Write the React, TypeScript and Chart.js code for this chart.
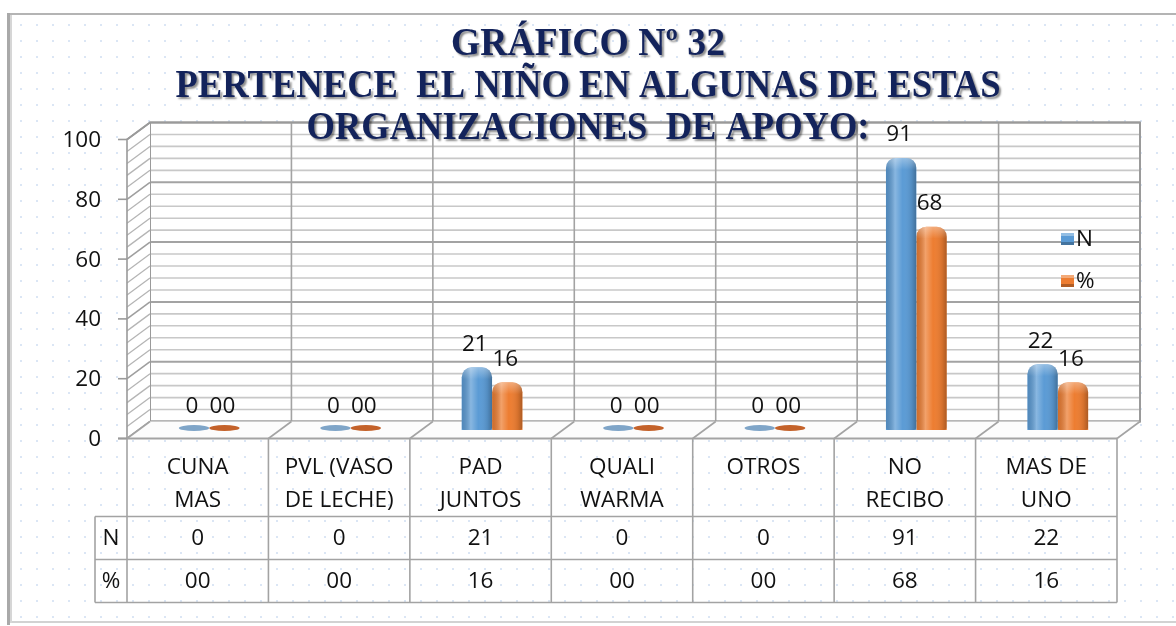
import React, { useEffect, useRef } from "react";
import { Chart, registerables } from "chart.js";
Chart.register(...registerables);

// ---------- data ----------
const categories: string[][] = [
  ["CUNA", "MAS"],
  ["PVL (VASO", "DE LECHE)"],
  ["PAD", "JUNTOS"],
  ["QUALI", "WARMA"],
  ["OTROS"],
  ["NO", "RECIBO"],
  ["MAS DE", "UNO"],
];
const seriesN = [0, 0, 21, 0, 0, 91, 22];
const seriesPct = [0, 0, 16, 0, 0, 68, 16];
const seriesNames = ["N", "%"];
const yTicks = [0, 20, 40, 60, 80, 100];
const titleLines = [
  "GRÁFICO Nº 32",
  "PERTENECE  EL NIÑO EN ALGUNAS DE ESTAS",
  "ORGANIZACIONES  DE APOYO:",
];

// ---------- style ----------
const BLUE = "#5b9bd5";
const ORANGE = "#ed7d31";
const BLUE_DISC = "#7fa5c8";
const ORANGE_DISC = "#c4622a";
const TITLE_COLOR = "#13235b";
const FONT = "'Open Sans', sans-serif";
const FS = 22.5;
const DX = 11.5;
const DY = 8.5;

const fmt = (v: number, ds: number) => (ds === 1 && v === 0 ? "00" : String(v));

export default function App() {
  const ref = useRef<HTMLCanvasElement>(null);

  useEffect(() => {
    const canvas = ref.current!;
    const decor = {
      id: "decor",
      beforeDraw(chart: any) {
        const ctx = chart.ctx as CanvasRenderingContext2D;
        const xs = chart.scales.x;
        const ys = chart.scales.y;
        const n = categories.length;
        const cw = xs.getPixelForValue(1) - xs.getPixelForValue(0);
        const bnd = (i: number) => xs.getPixelForValue(0) - cw / 2 + i * cw;
        const fY = (v: number) => ys.getPixelForValue(v) + DY;
        const bY = (v: number) => ys.getPixelForValue(v) - DY;
        const W = chart.width;
        const H = chart.height;
        ctx.save();
        ctx.fillStyle = "#ffffff";
        ctx.fillRect(0, 0, W, H);
        // dots
        ctx.fillStyle = "rgba(165,192,230,0.4)";
        for (let x = 20; x < W; x += 16) {
          for (let y = 24; y < 618; y += 16) ctx.fillRect(x, y, 2, 2);
        }
        // frame
        ctx.strokeStyle = "#b4b4b4";
        ctx.lineWidth = 2;
        ctx.beginPath();
        ctx.moveTo(8, 14);
        ctx.lineTo(W, 14);
        ctx.stroke();
        ctx.strokeStyle = "#d2d2d2";
        ctx.beginPath();
        ctx.moveTo(8, 622);
        ctx.lineTo(W, 622);
        ctx.stroke();
        ctx.fillStyle = "#a9a9a9";
        ctx.fillRect(7, 13, 3, 612);
        ctx.fillStyle = "#d6d6d6";
        ctx.fillRect(10, 15, 2, 608);

        const L = bnd(0), R = bnd(n);
        // back wall
        ctx.fillStyle = "#ffffff";
        ctx.fillRect(L + DX, bY(100), R - L, bY(0) - bY(100));
        for (let v = 0; v <= 100; v += 4) {
          const major = v % 20 === 0;
          ctx.strokeStyle = major ? "#a3a3a3" : "#c8c8c8";
          ctx.lineWidth = major ? 2 : 1.6;
          ctx.beginPath();
          ctx.moveTo(L + DX, bY(v));
          ctx.lineTo(R + DX, bY(v));
          ctx.stroke();
        }
        ctx.strokeStyle = "#a3a3a3";
        ctx.lineWidth = 1.6;
        for (let i = 0; i <= n; i++) {
          ctx.beginPath();
          ctx.moveTo(bnd(i) + DX, bY(100));
          ctx.lineTo(bnd(i) + DX, bY(0));
          ctx.stroke();
        }
        ctx.strokeStyle = "#9a9a9a";
        ctx.lineWidth = 2;
        ctx.strokeRect(L + DX, bY(100), R - L, bY(0) - bY(100));
        // side wall
        ctx.fillStyle = "#ffffff";
        ctx.beginPath();
        ctx.moveTo(L - DX, fY(100));
        ctx.lineTo(L + DX, bY(100));
        ctx.lineTo(L + DX, bY(0));
        ctx.lineTo(L - DX, fY(0));
        ctx.closePath();
        ctx.fill();
        for (let v = 0; v <= 100; v += 4) {
          const major = v % 20 === 0;
          ctx.strokeStyle = major ? "#9f9f9f" : "#b5b5b5";
          ctx.lineWidth = major ? 1.6 : 1.3;
          ctx.beginPath();
          ctx.moveTo(L - DX, fY(v));
          ctx.lineTo(L + DX, bY(v));
          ctx.stroke();
        }
        ctx.strokeStyle = "#9a9a9a";
        ctx.lineWidth = 1.6;
        ctx.beginPath();
        ctx.moveTo(L - DX, fY(0));
        ctx.lineTo(L - DX, fY(100));
        ctx.lineTo(L + DX, bY(100));
        ctx.stroke();
        // floor
        ctx.fillStyle = "#fcfcfc";
        ctx.beginPath();
        ctx.moveTo(L - DX, fY(0));
        ctx.lineTo(R - DX, fY(0));
        ctx.lineTo(R + DX, bY(0));
        ctx.lineTo(L + DX, bY(0));
        ctx.closePath();
        ctx.fill();
        ctx.strokeStyle = "#a3a3a3";
        ctx.lineWidth = 1.6;
        for (let i = 0; i <= n; i++) {
          ctx.beginPath();
          ctx.moveTo(bnd(i) - DX, fY(0));
          ctx.lineTo(bnd(i) + DX, bY(0));
          ctx.stroke();
        }
        ctx.lineWidth = 2;
        ctx.beginPath();
        ctx.moveTo(L - DX - 9, fY(0));
        ctx.lineTo(R - DX, fY(0));
        ctx.stroke();
        // ticks + labels
        ctx.font = `${FS}px ${FONT}`;
        ctx.fillStyle = "#111";
        ctx.textAlign = "right";
        ctx.textBaseline = "middle";
        ctx.strokeStyle = "#9a9a9a";
        ctx.lineWidth = 1.6;
        for (const t of yTicks) {
          ctx.beginPath();
          ctx.moveTo(L - DX - 9, fY(t));
          ctx.lineTo(L - DX, fY(t));
          ctx.stroke();
          ctx.fillText(String(t), L - DX - 26, fY(t) + 1);
        }
        // data table
        const t0 = fY(0);
        const rHead = t0 + 78;
        const rN = rHead + 43;
        const rP = rN + 43;
        const lab = L - DX - 32;
        ctx.strokeStyle = "#a3a3a3";
        ctx.lineWidth = 1.6;
        for (let i = 0; i <= n; i++) {
          ctx.beginPath();
          ctx.moveTo(bnd(i) - DX, t0);
          ctx.lineTo(bnd(i) - DX, rP);
          ctx.stroke();
        }
        for (const y of [rHead, rN, rP]) {
          ctx.beginPath();
          ctx.moveTo(lab, y);
          ctx.lineTo(R - DX, y);
          ctx.stroke();
        }
        ctx.beginPath();
        ctx.moveTo(lab, rHead);
        ctx.lineTo(lab, rP);
        ctx.stroke();
        ctx.fillStyle = "#111";
        ctx.textAlign = "center";
        ctx.textBaseline = "middle";
        ctx.font = `${FS}px ${FONT}`;
        for (let i = 0; i < n; i++) {
          const cx = xs.getPixelForValue(i) - DX;
          categories[i].forEach((ln, k) => ctx.fillText(ln, cx, t0 + 29 + k * 33));
          ctx.fillText(fmt(seriesN[i], 0), cx, rHead + 22);
          ctx.fillText(fmt(seriesPct[i], 1), cx, rN + 22);
        }
        ctx.fillText(seriesNames[0], (lab + L - DX) / 2, rHead + 22);
        ctx.fillText(seriesNames[1], (lab + L - DX) / 2, rN + 22);
        ctx.restore();
      },
      afterDatasetsDraw(chart: any) {
        const ctx = chart.ctx as CanvasRenderingContext2D;
        ctx.save();
        chart.data.datasets.forEach((ds: any, di: number) => {
          const meta = chart.getDatasetMeta(di);
          meta.data.forEach((el: any, i: number) => {
            const v = ds.data[i];
            const w = el.width;
            const x0 = el.x - w / 2;
            if (v === 0) {
              ctx.fillStyle = di === 0 ? BLUE_DISC : ORANGE_DISC;
              ctx.beginPath();
              ctx.ellipse(el.x, el.base - 2, w / 2, 3, 0, 0, Math.PI * 2);
              ctx.fill();
            } else {
              const r = 10;
              ctx.save();
              ctx.beginPath();
              ctx.roundRect(x0, el.y, w, el.base - el.y, [r, r, 3, 3]);
              ctx.clip();
              const g = ctx.createLinearGradient(x0, 0, x0 + w, 0);
              g.addColorStop(0, "rgba(0,0,0,0.12)");
              g.addColorStop(0.3, "rgba(255,255,255,0.28)");
              g.addColorStop(0.55, "rgba(255,255,255,0.0)");
              g.addColorStop(0.85, "rgba(0,0,0,0.1)");
              g.addColorStop(1, "rgba(0,0,0,0.28)");
              ctx.fillStyle = g;
              ctx.fillRect(x0, el.y, w, el.base - el.y);
              const gt = ctx.createLinearGradient(0, el.y, 0, el.y + 12);
              gt.addColorStop(0, "rgba(255,255,255,0.35)");
              gt.addColorStop(1, "rgba(255,255,255,0)");
              ctx.fillStyle = gt;
              ctx.fillRect(x0, el.y, w, 12);
              ctx.restore();
            }
            ctx.fillStyle = "#111";
            ctx.font = `${FS}px ${FONT}`;
            ctx.textAlign = "center";
            ctx.textBaseline = "middle";
            ctx.fillText(fmt(v, di), el.x - 2, el.y - 23);
          });
        });
        // legend
        const legY = [239, 281];
        [BLUE, ORANGE].forEach((c, k) => {
          const y = legY[k];
          ctx.fillStyle = c;
          ctx.fillRect(1061, y - 6, 13, 12);
          ctx.fillStyle = "rgba(255,255,255,0.35)";
          ctx.fillRect(1061, y - 6, 13, 3);
          ctx.fillStyle = "rgba(0,0,0,0.25)";
          ctx.fillRect(1061, y + 3, 13, 3);
          ctx.fillStyle = "#111";
          ctx.font = `${FS}px ${FONT}`;
          ctx.textAlign = "left";
          ctx.textBaseline = "middle";
          ctx.fillText(seriesNames[k], 1076, y + 1);
        });
        // title
        const widths = [274, 825, 563];
        const bases = [55, 97, 139];
        ctx.font = "bold 40px 'Liberation Serif', serif";
        ctx.textAlign = "left";
        ctx.textBaseline = "alphabetic";
        titleLines.forEach((t, k) => {
          const m = ctx.measureText(t).width;
          const s = widths[k] / m;
          ctx.save();
          ctx.translate(588 - widths[k] / 2, bases[k]);
          ctx.scale(s, 1);
          ctx.shadowColor = "rgba(0,0,0,0.45)";
          ctx.shadowOffsetX = 2;
          ctx.shadowOffsetY = 2;
          ctx.shadowBlur = 2;
          ctx.fillStyle = TITLE_COLOR;
          ctx.fillText(t, 0, 0);
          ctx.restore();
        });
        ctx.restore();
      },
    };

    const chart = new Chart(canvas, {
      type: "bar",
      data: {
        labels: categories.map((c) => c.join(" ")),
        datasets: [
          {
            label: seriesNames[0],
            data: seriesN,
            backgroundColor: (c: any) => (c.raw === 0 ? "rgba(0,0,0,0)" : BLUE),
            borderRadius: { topLeft: 10, topRight: 10, bottomLeft: 0, bottomRight: 0 },
            borderSkipped: "bottom",
            categoryPercentage: 0.43,
            barPercentage: 1,
          },
          {
            label: seriesNames[1],
            data: seriesPct,
            backgroundColor: (c: any) => (c.raw === 0 ? "rgba(0,0,0,0)" : ORANGE),
            borderRadius: { topLeft: 10, topRight: 10, bottomLeft: 0, bottomRight: 0 },
            borderSkipped: "bottom",
            categoryPercentage: 0.43,
            barPercentage: 1,
          },
        ],
      },
      options: {
        responsive: false,
        animation: false,
        devicePixelRatio: 1,
        layout: { padding: { left: 138.5, right: 47.5, top: 131, bottom: 196 } },
        scales: {
          x: { display: false },
          y: { display: false, min: 0, max: 100 },
        },
        plugins: {
          legend: { display: false },
          tooltip: { enabled: false },
          title: { display: false },
        },
      },
      plugins: [decor],
    } as any);
    return () => chart.destroy();
  }, []);

  return (
    <div style={{ position: "fixed", left: 0, top: 0, width: 1176, height: 626, background: "#fff" }}>
      <canvas ref={ref} width={1176} height={626} style={{ display: "block", width: 1176, height: 626 }} />
    </div>
  );
}
